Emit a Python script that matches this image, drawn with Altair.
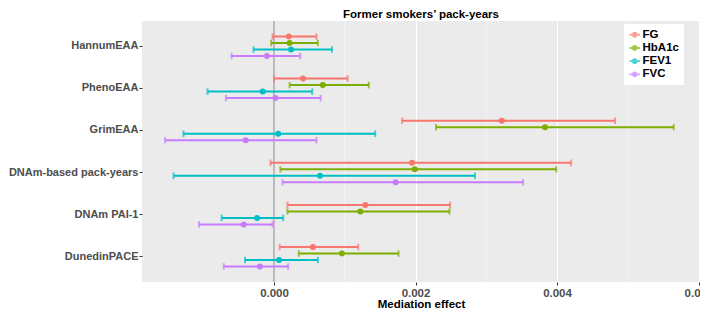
import altair as alt
import pandas as pd

categories = ["HannumEAA", "PhenoEAA", "GrimEAA", "DNAm-based pack-years", "DNAm PAI-1", "DunedinPACE"]
series = ["FG", "HbA1c", "FEV1", "FVC"]
colors = ["#F8766D", "#7CAE00", "#00BFC4", "#C77CFF"]

# estimate, lower, upper per series, in category order
fg_est = [0.00021, 0.00041, 0.00322, 0.00195, 0.00129, 0.00055]
fg_lo = [-0.00002, 0.00000, 0.00181, -0.00005, 0.00019, 0.00008]
fg_hi = [0.00060, 0.00104, 0.00482, 0.00420, 0.00249, 0.00119]

hb_est = [0.00022, 0.00069, 0.00383, 0.00199, 0.00122, 0.00096]
hb_lo = [-0.00004, 0.00022, 0.00229, 0.00009, 0.00019, 0.00035]
hb_hi = [0.00062, 0.00134, 0.00565, 0.00399, 0.00248, 0.00176]

fev_est = [0.00024, -0.00016, 0.00006, 0.00065, -0.00024, 0.00007]
fev_lo = [-0.00029, -0.00094, -0.00128, -0.00142, -0.00074, -0.00041]
fev_hi = [0.00082, 0.00054, 0.00143, 0.00284, 0.00013, 0.00062]

fvc_est = [-0.00010, 0.00002, -0.00040, 0.00172, -0.00043, -0.00020]
fvc_lo = [-0.00060, -0.00068, -0.00154, 0.00012, -0.00106, -0.00071]
fvc_hi = [0.00037, 0.00066, 0.00060, 0.00352, -0.00002, 0.00020]

major_ticks = [0.0, 0.002, 0.004, 0.006]
minor_ticks = [0.001, 0.003, 0.005]

rows = []
for s, est, lo, hi in [("FG", fg_est, fg_lo, fg_hi), ("HbA1c", hb_est, hb_lo, hb_hi),
                       ("FEV1", fev_est, fev_lo, fev_hi), ("FVC", fvc_est, fvc_lo, fvc_hi)]:
    for c, e, l, h in zip(categories, est, lo, hi):
        rows.append({"cat": c, "series": s, "est": e, "lo": l, "hi": h})
df = pd.DataFrame(rows)

FONT = "Liberation Sans"
xscale = alt.Scale(domain=[-0.001866, 0.006021], nice=False, zero=False)

legend_path = ("M-1,-0.18H-0.45V0.18H-1Z M0.45,-0.18H1V0.18H0.45Z "
               "M0.55,0A0.55,0.55 0 1,1 -0.55,0A0.55,0.55 0 1,1 0.55,0Z")

color = alt.Color("series:N", sort=series,
                  scale=alt.Scale(domain=series, range=colors),
                  legend=alt.Legend(title=None, orient="none", legendX=482, legendY=3,
                                    fillColor="white", padding=5, symbolType=legend_path,
                                    symbolSize=110, symbolStrokeWidth=0, labelFontSize=11.5,
                                    labelFontWeight="bold", labelColor="black", labelFont=FONT,
                                    labelOffset=2, rowPadding=0.2))

yenc = alt.Y("cat:N", sort=categories, title=None,
             scale=alt.Scale(paddingInner=0, paddingOuter=0.1),
             axis=alt.Axis(bandPosition=0.5, labelFontSize=11, labelFontWeight="bold",
                           labelColor="#4D4D4D", labelFont=FONT, tickColor="#333333",
                           tickSize=3, tickWidth=1, domain=False, labelPadding=1,
                           gridColor="white", gridWidth=1.1))
offset_domain = ["_pad1"] + series + ["_pad2"]
yoff = alt.YOffset("series:N",
                   scale=alt.Scale(domain=offset_domain, paddingInner=0, paddingOuter=0.24))

base = alt.Chart(df)

minor = alt.Chart(pd.DataFrame({"v": minor_ticks})).mark_rule(color="white", strokeWidth=0.5).encode(
    x=alt.X("v:Q", scale=xscale))

vline = alt.Chart(pd.DataFrame({"v": [0.0]})).mark_rule(color="#8C8C8C", strokeWidth=1.1).encode(
    x=alt.X("v:Q", scale=xscale))

bars = base.mark_rule(strokeWidth=2).encode(
    x=alt.X("lo:Q", scale=xscale,
            axis=alt.Axis(values=major_ticks, format=".3f", title="Mediation effect",
                          labelFontSize=11.5, labelFontWeight="bold", labelColor="#4D4D4D",
                          labelFont=FONT, tickColor="#333333", tickSize=3, domain=False,
                          labelPadding=2, labelFlush=False, labelOverlap=False,
                          titleFont=FONT, titleFontSize=11.5, titleFontWeight="bold",
                          titleColor="black", titlePadding=0, gridColor="white", gridWidth=1.1)),
    x2="hi:Q", y=yenc, yOffset=yoff, color=color)

caps_lo = base.mark_tick(size=6.5, thickness=2, orient="vertical").encode(
    x=alt.X("lo:Q", scale=xscale), y=yenc, yOffset=yoff, color=color)
caps_hi = base.mark_tick(size=6.5, thickness=2, orient="vertical").encode(
    x=alt.X("hi:Q", scale=xscale), y=yenc, yOffset=yoff, color=color)

points = base.mark_point(filled=True, size=36, opacity=1).encode(
    x=alt.X("est:Q", scale=xscale), y=yenc, yOffset=yoff, color=color)

chart = alt.layer(minor, vline, bars, caps_lo, caps_hi, points).properties(
    width=558, height=261,
    title=alt.TitleParams("Former smokers’ pack-years", fontSize=11.5, fontWeight="bold",
                          font=FONT, color="black", anchor="middle", offset=0),
    autosize=alt.AutoSizeParams(type="none"),
    padding={"left": 134, "top": 13, "right": 0, "bottom": 27},
).configure_view(fill="#EBEBEB", stroke=None)

chart.save("out.html", embed_options={"renderer": "svg", "actions": False})
